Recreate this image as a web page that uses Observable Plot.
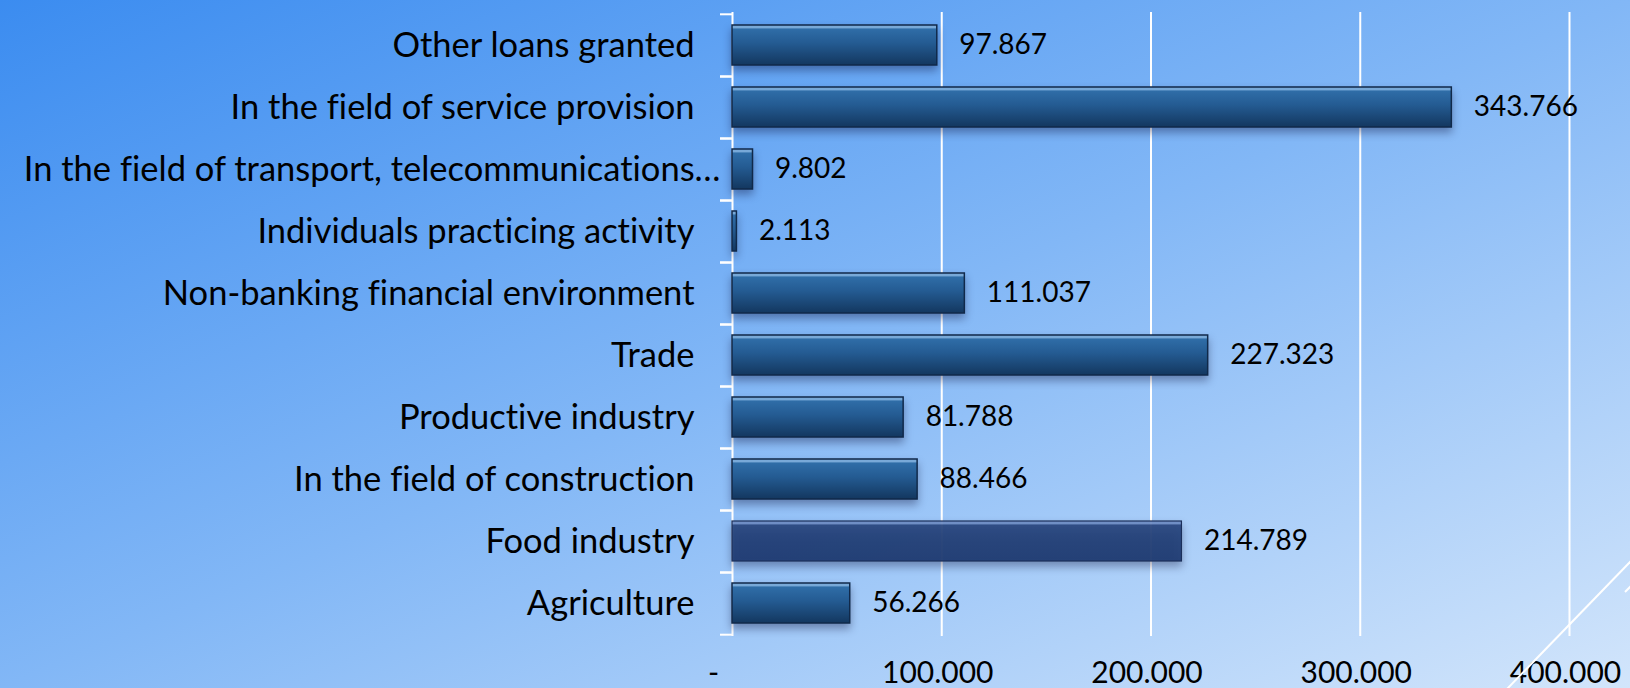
<!DOCTYPE html>
<html><head><meta charset="utf-8">
<script src="https://cdn.jsdelivr.net/npm/d3@7"></script>
<script src="https://cdn.jsdelivr.net/npm/@observablehq/plot@0.6"></script>
<style>
html,body{margin:0;padding:0;}
body{width:1630px;height:688px;overflow:hidden;position:relative;
  background:linear-gradient(to bottom right,#3b8cf0 0%,#82b7f6 50%,#d2e5fb 100%);
  font-family:Lato,sans-serif;}
#deco{position:absolute;left:0;top:0;pointer-events:none;}
svg text{font-variant-ligatures:none;font-feature-settings:"liga" 0;}
</style></head><body>
<div id="chart"></div>
<svg id="deco" width="1630" height="688"><line x1="1507" y1="689" x2="1631" y2="561" stroke="white" stroke-width="2"/><line x1="1625" y1="592" x2="1632" y2="585" stroke="white" stroke-width="2"/></svg>
<script>
// ---- data ----
const categories = [
  "Other loans granted",
  "In the field of service provision",
  "In the field of transport, telecommunications…",
  "Individuals practicing activity",
  "Non-banking financial environment",
  "Trade",
  "Productive industry",
  "In the field of construction",
  "Food industry",
  "Agriculture"
];
const values = [97867, 343766, 9802, 2113, 111037, 227323, 81788, 88466, 214789, 56266];
const xTicks = [100000, 200000, 300000, 400000];
const zeroLabel = "-";
const highlighted = ["Food industry"];

const data = categories.map((c, i) => ({category: c, value: values[i]}));
const fmt = d3.formatLocale({decimal: ",", thousands: ".", grouping: [3], currency: ["", ""]}).format(",d");

// ---- layout ----
const W = 1630, H = 688, mTop = 12, mBottom = 52, mLeft = 732, mRight = 61;
const step = (H - mTop - mBottom) / categories.length;

const plot = Plot.plot({
  width: W, height: H,
  marginTop: mTop, marginBottom: mBottom, marginLeft: mLeft, marginRight: mRight,
  style: {background: "transparent", fontFamily: "Lato, sans-serif", color: "black", overflow: "visible"},
  x: {domain: [0, 400000], label: null},
  y: {domain: categories, paddingInner: 0.36, paddingOuter: 0.18, label: null},
  marks: [
    Plot.gridX(xTicks, {stroke: "white", strokeOpacity: 1, strokeWidth: 2}),
    Plot.ruleX([0], {stroke: "white", strokeWidth: 2}),
    Plot.axisY({tickSize: 12, stroke: "white", strokeWidth: 2, tickFormat: () => "", dy: -step / 2, label: null}),
    Plot.axisY({tickSize: 12, stroke: "white", strokeWidth: 2, tickFormat: () => "", dy: step / 2, label: null}),
    Plot.barX(data.filter(d => !highlighted.includes(d.category)), {
      x: "value", y: "category", fill: "url(#barGrad)", stroke: "#10294a", strokeWidth: 1.5
    }),
    Plot.barX(data.filter(d => highlighted.includes(d.category)), {
      x: "value", y: "category", fill: "url(#foodGrad)", stroke: "#1b2f5a", strokeWidth: 1.2, fillOpacity: 0.93
    }),
    Plot.text(data, {x: "value", y: "category", text: d => fmt(d.value), textAnchor: "start", dx: 22, fontSize: 28, fill: "black"}),
    Plot.axisY({tickSize: 0, tickPadding: 38, fontSize: 34.5, fill: "black", label: null,
      tickFormat: d => d.endsWith("…") ? "" : d}),
    Plot.axisY(categories.filter(d => d.endsWith("…")), {tickSize: 0, tickPadding: 12, fontSize: 34.5, fill: "black", label: null}),
    Plot.axisX({ticks: xTicks, tickSize: 0, tickPadding: 25, fontSize: 30, dx: -4, fill: "black", tickFormat: fmt, label: null}),
    Plot.text([0], {x: d => d, text: () => zeroLabel, frameAnchor: "bottom", lineAnchor: "top", dy: 25, dx: -19, fontSize: 30, fill: "black"})
  ]
});

// gradients and shadow
const svg = d3.select(plot);
const defs = svg.insert("defs", ":first-child");
const g1 = defs.append("linearGradient").attr("id", "barGrad").attr("x1", 0).attr("y1", 0).attr("x2", 0).attr("y2", 1);
[[0, "#78a9d8"], [0.07, "#78a9d8"], [0.1, "#2f6da7"], [0.45, "#245b92"], [1, "#13375f"]]
  .forEach(([o, c]) => g1.append("stop").attr("offset", o).attr("stop-color", c));
const g2 = defs.append("linearGradient").attr("id", "foodGrad").attr("x1", 0).attr("y1", 0).attr("x2", 0).attr("y2", 1);
[[0, "#6d8bc2"], [0.07, "#6d8bc2"], [0.1, "#29467f"], [0.5, "#223f77"], [1, "#1e3a72"]]
  .forEach(([o, c]) => g2.append("stop").attr("offset", o).attr("stop-color", c));
svg.selectAll('g[aria-label="bar"]').style("filter", "drop-shadow(0px 5px 4px rgba(0,0,40,0.35))");

document.getElementById("chart").appendChild(plot);
</script>
</body></html>
